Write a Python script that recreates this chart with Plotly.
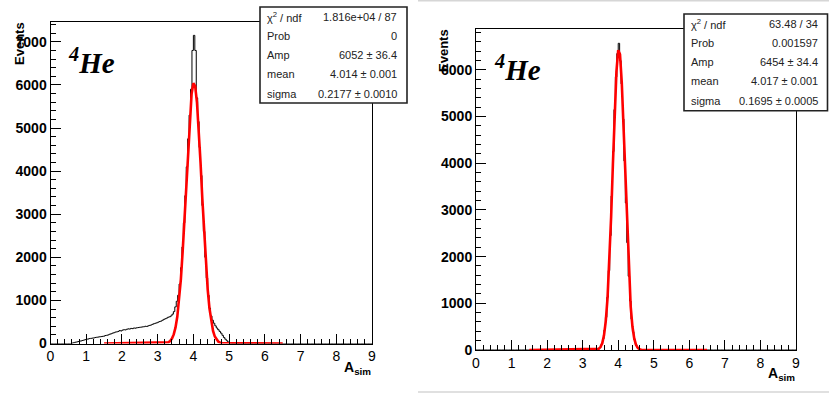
import numpy as np
import plotly.graph_objects as go

W, H = 829, 394

# ---------------- data ----------------
bin_width = 0.04
x_min, x_max = 0.0, 9.0

# left panel histogram (black), first non-empty bin low edge
left_first_bin = 0.60
left_counts = [10, 20, 30, 35, 45, 55, 60, 70, 80, 90,
               100, 105, 115, 120, 125, 130, 140, 145, 150, 155,
               160, 165, 170, 185, 190, 200, 215, 225, 240, 250,
               265, 270, 280, 300, 290, 310, 320, 315, 330, 340,
               335, 350, 345, 360, 355, 365, 370, 375, 380, 385,
               390, 400, 395, 410, 420, 430, 445, 460, 470, 480,
               495, 510, 520, 540, 560, 575, 590, 610, 620, 640,
               680, 740, 850, 980, 1120, 1380, 1760, 2240, 2800, 3430,
               4100, 4750, 5300, 5900, 6800, 7150, 6800, 5700, 5150, 4550,
               3900, 3200, 2600, 2000, 1520, 1120, 820, 640, 540, 470,
               410, 360, 320, 280, 240, 190, 140, 100, 65, 35,
               15, 6, 2]

# right panel histogram (black)
right_first_bin = 3.40
right_counts = [15, 30, 60, 120, 240, 430, 700, 1130, 1700, 2450,
                3300, 4250, 5150, 5850, 6350, 6570, 6200, 5700, 4950, 4050,
                3150, 2300, 1580, 1050, 660, 390, 220, 120, 60, 25,
                12, 5]

# gaussian fit curves (red), sampled
fit_x_left = [1.50, 3.25, 3.30, 3.35, 3.40, 3.45, 3.50, 3.55, 3.60, 3.65,
              3.70, 3.75, 3.80, 3.85, 3.90, 3.95, 4.00, 4.05, 4.10, 4.15,
              4.20, 4.25, 4.30, 4.35, 4.40, 4.45, 4.50, 4.55, 4.60, 4.65,
              4.70, 4.75, 4.80, 6.50]
fit_y_left = [0, 13, 28, 58, 113, 211, 373, 625, 993, 1496,
              2139, 2901, 3733, 4557, 5277, 5796, 6039, 5970, 5598, 4980,
              4201, 3363, 2553, 1839, 1257, 815, 501, 292, 162, 85,
              42, 20, 9, 0]

fit_x_right = [1.50, 3.40, 3.45, 3.50, 3.55, 3.60, 3.65, 3.70, 3.75, 3.80,
               3.85, 3.90, 3.95, 4.00, 4.05, 4.10, 4.15, 4.20, 4.25, 4.30,
               4.35, 4.40, 4.45, 4.50, 4.55, 4.60, 4.65, 6.50]
fit_y_right = [0, 9, 24, 62, 145, 313, 619, 1123, 1866, 2844,
               3973, 5086, 5969, 6422, 6333, 5725, 4744, 3604, 2509, 1601,
               937, 503, 247, 111, 46, 17, 6, 0]

stats_labels = ["χ<sup>2</sup> / ndf", "Prob", "Amp", "mean", "sigma"]
stats_left = ["1.816e+04 / 87", "0", "6052 ± 36.4", "4.014 ± 0.001", "0.2177 ± 0.0010"]
stats_right = ["63.48 / 34", "0.001597", "6454 ± 34.4", "4.017 ± 0.001", "0.1695 ± 0.0005"]

x_ticks = [0, 1, 2, 3, 4, 5, 6, 7, 8, 9]
y_max_left = 7460
y_max_right = 6870
y_title = "Events"
x_title = "A<sub>sim</sub>"
label_text = "<sup>4</sup>He"


# ---------------- helpers ----------------
def px(x):
    return x / W


def py(y):
    return 1 - y / H


def hist_steps(first_bin, counts):
    nb = int(round((x_max - x_min) / bin_width))
    vals = np.zeros(nb)
    i0 = int(round((first_bin - x_min) / bin_width))
    vals[i0:i0 + len(counts)] = counts
    edges = x_min + bin_width * np.arange(nb + 1)
    yv = np.append(vals, vals[-1])
    return edges, yv


fig = go.Figure()

panels = [
    dict(xa="x", ya="y", first=left_first_bin, counts=left_counts,
         fx=fit_x_left, fy=fit_y_left),
    dict(xa="x2", ya="y2", first=right_first_bin, counts=right_counts,
         fx=fit_x_right, fy=fit_y_right),
]
for p in panels:
    ex, ey = hist_steps(p["first"], p["counts"])
    fig.add_trace(go.Scatter(x=ex, y=ey, mode="lines", line_shape="hv",
                             line=dict(color="black", width=1),
                             xaxis=p["xa"], yaxis=p["ya"], showlegend=False,
                             hoverinfo="skip"))
    fig.add_trace(go.Scatter(x=p["fx"], y=p["fy"], mode="lines",
                             line=dict(color="#ff0000", width=2.6),
                             xaxis=p["xa"], yaxis=p["ya"], showlegend=False,
                             hoverinfo="skip"))

tickfont = dict(family="Liberation Sans, Arial, sans-serif", size=14, color="black")


def xaxis_cfg(dom, anchor):
    return dict(domain=dom, range=[x_min, x_max], tickvals=x_ticks,
                ticks="inside", ticklen=10, tickwidth=1, tickcolor="black",
                minor=dict(dtick=0.2, tick0=0, ticks="inside", ticklen=5,
                           tickcolor="black", tickwidth=1),
                showline=True, linecolor="black", linewidth=1, mirror=True,
                showgrid=False, zeroline=False, tickfont=tickfont,
                tickprefix="<b>", ticksuffix="</b>", fixedrange=True,
                automargin=False, anchor=anchor)


def yaxis_cfg(dom, top, anchor):
    return dict(domain=dom, range=[0, top], dtick=1000, tick0=0,
                ticks="inside", ticklen=10, tickwidth=1, tickcolor="black",
                minor=dict(dtick=200, tick0=0, ticks="inside", ticklen=5,
                           tickcolor="black", tickwidth=1),
                showline=True, linecolor="black", linewidth=1, mirror=True,
                showgrid=False, zeroline=False, tickfont=tickfont,
                tickprefix="<b>", ticksuffix="</b>", anchor=anchor,
                fixedrange=True, automargin=False)


fig.update_layout(
    width=W, height=H,
    margin=dict(l=0, r=0, t=0, b=0, autoexpand=False),
    paper_bgcolor="white", plot_bgcolor="white",
    xaxis=xaxis_cfg([px(50.5), px(372)], "y"),
    yaxis=yaxis_cfg([py(343.5), py(22)], y_max_left, "x"),
    xaxis2=xaxis_cfg([px(476), px(796)], "y2"),
    yaxis2=yaxis_cfg([py(350), py(29.3)], y_max_right, "x2"),
)

shapes = []
annotations = []

# light grey border lines of the right picture
shapes.append(dict(type="line", xref="paper", yref="paper",
                   x0=px(418), x1=px(829), y0=py(0.7), y1=py(0.7),
                   line=dict(color="#d6d6d6", width=1.5)))
shapes.append(dict(type="line", xref="paper", yref="paper",
                   x0=px(418), x1=px(829), y0=py(392), y1=py(392),
                   line=dict(color="#d6d6d6", width=1.5)))


def stats_box(x0, x1, y0, y1, rows_y, values):
    shapes.append(dict(type="rect", xref="paper", yref="paper",
                       x0=px(x0), x1=px(x1), y0=py(y1), y1=py(y0),
                       fillcolor="white", line=dict(color="#222", width=1.6),
                       layer="above"))
    for lab, val, yy in zip(stats_labels, values, rows_y):
        annotations.append(dict(xref="paper", yref="paper", x=px(x0 + 5), y=py(yy),
                                text=lab, showarrow=False, xanchor="left",
                                yanchor="middle",
                                font=dict(family="Liberation Sans, Arial", size=11,
                                          color="#222")))
        annotations.append(dict(xref="paper", yref="paper", x=px(x1 - 8), y=py(yy),
                                text=val, showarrow=False, xanchor="right",
                                yanchor="middle",
                                font=dict(family="Liberation Sans, Arial", size=11,
                                          color="#222")))


stats_box(260, 407, 7, 103, [16.7, 35.7, 55, 74, 94.3], stats_left)
stats_box(684, 827.5, 14, 110.7, [24, 43.3, 62.3, 81, 100.7], stats_right)

# 4He labels
for xl, yl in [(66, 61), (492, 68)]:
    annotations.append(dict(xref="paper", yref="paper", x=px(xl), y=py(yl),
                            text="<b><i>" + label_text + "</i></b>", showarrow=False,
                            xanchor="left", yanchor="middle",
                            font=dict(family="Liberation Serif, Times New Roman, serif",
                                      size=29, color="black")))

# y titles
for xt, yt in [(19, 44), (443, 50)]:
    annotations.append(dict(xref="paper", yref="paper", x=px(xt), y=py(yt),
                            text="<b>" + y_title + "</b>", showarrow=False,
                            textangle=-90, xanchor="center", yanchor="middle",
                            font=dict(family="Liberation Sans, Arial", size=13,
                                      color="black")))

# x titles
for xt, yt in [(373, 368), (797, 374)]:
    annotations.append(dict(xref="paper", yref="paper", x=px(xt), y=py(yt),
                            text="<b>" + x_title + "</b>", showarrow=False,
                            xanchor="right", yanchor="middle",
                            font=dict(family="Liberation Sans, Arial", size=14,
                                      color="black")))

fig.update_layout(shapes=shapes, annotations=annotations)
fig.write_html("out.html",
               config={"displayModeBar": False, "staticPlot": True},
               post_script="document.body.style.margin='0';"
                           "document.body.style.padding='0';"
                           "document.body.style.overflow='hidden';")
